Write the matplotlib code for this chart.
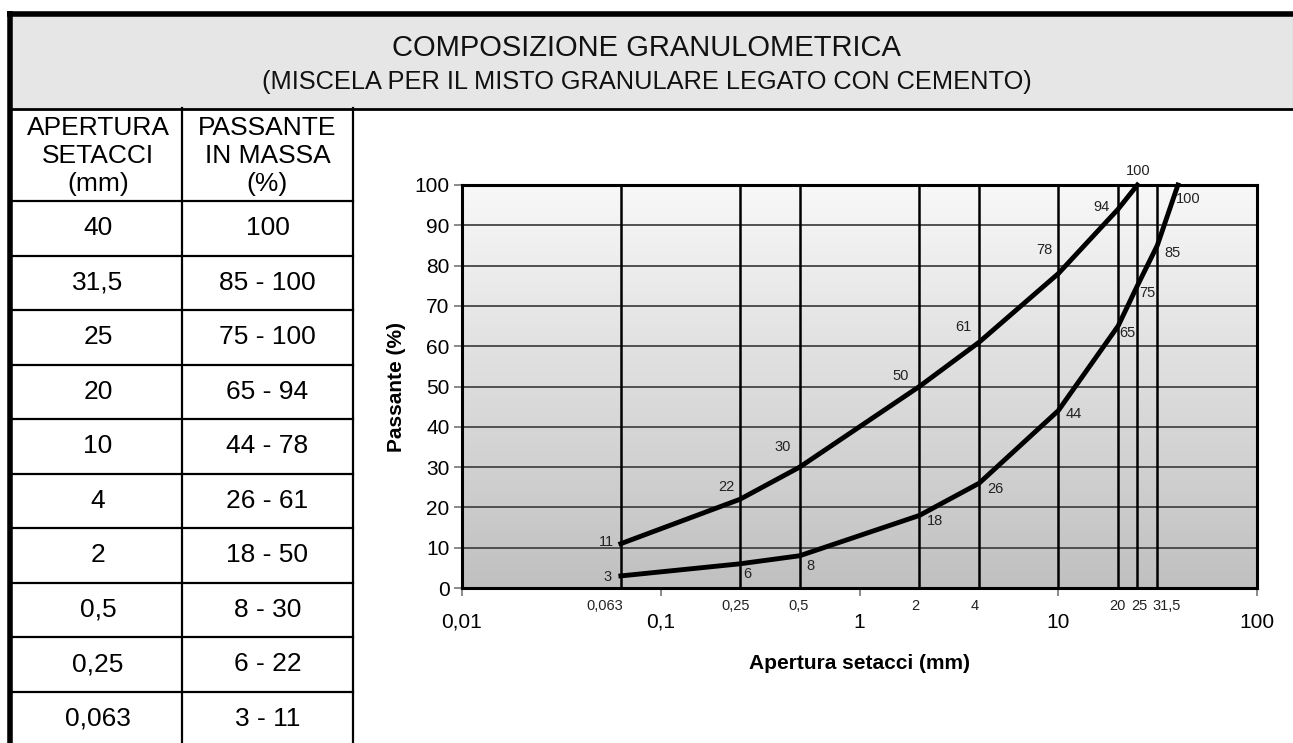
import numpy as np
import matplotlib
matplotlib.use("Agg")
import matplotlib.pyplot as plt
from matplotlib.ticker import FixedLocator, NullLocator, FuncFormatter

plt.rcParams['font.family'] = ['Liberation Sans', 'DejaVu Sans']

# ---------------- data ----------------
title = "COMPOSIZIONE GRANULOMETRICA"
subtitle = "(MISCELA PER IL MISTO GRANULARE LEGATO CON CEMENTO)"
table_header_1 = ["APERTURA", "SETACCI", "(mm)"]
table_header_2 = ["PASSANTE", "IN MASSA", "(%)"]
table_sieves = ["40", "31,5", "25", "20", "10", "4", "2", "0,5", "0,25", "0,063"]
table_ranges = ["100", "85 - 100", "75 - 100", "65 - 94", "44 - 78",
                "26 - 61", "18 - 50", "8 - 30", "6 - 22", "3 - 11"]

upper_x = [0.063, 0.25, 0.5, 2, 4, 10, 20, 25]
upper_y = [11, 22, 30, 50, 61, 78, 94, 100]
lower_x = [0.063, 0.25, 0.5, 2, 4, 10, 20, 25, 31.5, 40]
lower_y = [3, 6, 8, 18, 26, 44, 65, 75, 85, 100]

sieve_lines = [0.063, 0.25, 0.5, 2, 4, 10, 20, 25, 31.5]
sieve_labels = ["0,063", "0,25", "0,5", "2", "4", "20", "25", "31,5"]
sieve_label_x = [0.063, 0.25, 0.5, 2, 4, 20, 25, 31.5]
major_x = [0.01, 0.1, 1, 10, 100]
y_ticks = [0, 10, 20, 30, 40, 50, 60, 70, 80, 90, 100]

# label offsets (pixels) - styling
upper_off = [(-14, 2), (-13, 12), (-17, 20), (-19, 11), (-16, 15), (-14, 24), (-17, 2), (1, 14)]
lower_off = [(-13, -1), (7, -10), (11, -10), (16, -6), (16, -6), (15, -3), (9, -7), (10, -7), (15, -8), (10, -14)]
sieve_off = [-16, -4, -1, -4, -4, -1, 2, 9]

W, H = 1293, 743
fig = plt.figure(figsize=(W / 100, H / 100), dpi=100)
fig.patch.set_facecolor('white')

# overlay axes in pixel coordinates
ov = fig.add_axes([0, 0, 1, 1])
ov.set_xlim(0, W)
ov.set_ylim(H, 0)
ov.axis('off')

# title band
ov.add_patch(plt.Rectangle((10, 13), W - 10, 96, facecolor='#e6e6e6', edgecolor='none', zorder=1))
ov.plot([7, W], [13.5, 13.5], color='black', lw=4.0, solid_capstyle='butt', zorder=3)
ov.plot([9.8, 9.8], [11, H], color='black', lw=4.0, solid_capstyle='butt', zorder=3)
ov.plot([11, W], [108.5, 108.5], color='black', lw=2.0, solid_capstyle='butt', zorder=3)
ov.plot([W - 0.5, W - 0.5], [16, 108], color='#999999', lw=0.8, zorder=3)

ov.text(W / 2, 48, title, ha='center', va='center', fontsize=21, color='#111111', zorder=4)
ov.text(W / 2, 82, subtitle, ha='center', va='center', fontsize=18.3, color='#111111', zorder=4)

# table
col_x = [12, 182, 353]
header_bottom = 201
row_h = 54.5
for xx in col_x[1:]:
    ov.plot([xx, xx], [108, H], color='black', lw=1.6, zorder=3)
for i in range(len(table_sieves)):
    yb = header_bottom + i * row_h
    ov.plot([12, col_x[2]], [yb, yb], color='black', lw=1.6, zorder=3)
for j, (a, b) in enumerate(zip(table_header_1, table_header_2)):
    yy = 128 + j * 28
    ov.text((col_x[0] + col_x[1]) / 2 + 1, yy, a, ha='center', va='center', fontsize=19, zorder=4)
    ov.text((col_x[1] + col_x[2]) / 2, yy, b, ha='center', va='center', fontsize=19, zorder=4)
for i, (s, r) in enumerate(zip(table_sieves, table_ranges)):
    yy = header_bottom + i * row_h + row_h / 2
    ov.text((col_x[0] + col_x[1]) / 2 + 1, yy, s, ha='center', va='center', fontsize=19, zorder=4)
    ov.text((col_x[1] + col_x[2]) / 2, yy, r, ha='center', va='center', fontsize=19, zorder=4)

# ---------------- chart ----------------
L, R, T, B = 462, 1257, 185, 588
ax = fig.add_axes([L / W, 1 - B / H, (R - L) / W, (B - T) / H])
ax.set_xscale('log')
ax.set_xlim(0.01, 100)
ax.set_ylim(0, 100)

# gradient background
grad = np.linspace(0, 1, 256).reshape(-1, 1)
ax.imshow(grad, extent=[0, 1, 0, 1], transform=ax.transAxes, aspect='auto',
          cmap=matplotlib.colors.LinearSegmentedColormap.from_list('g', ['#c0c0c0', '#f8f8f8']),
          origin='lower', zorder=0)

for yv in y_ticks[1:-1]:
    ax.axhline(yv, color='#454545', lw=1.3, zorder=1)
for xv in sieve_lines:
    ax.axvline(xv, color='black', lw=1.8, zorder=2)

ax.plot(upper_x, upper_y, color='black', lw=3.5, zorder=4, solid_joinstyle='round', clip_on=False)
ax.plot(lower_x, lower_y, color='black', lw=3.5, zorder=4, solid_joinstyle='round', clip_on=False)

for (xv, yv), off in zip(zip(upper_x, upper_y), upper_off):
    ax.annotate(str(yv), (xv, yv), xytext=off, textcoords='offset pixels',
                ha='center', va='center', fontsize=10.5, color='#222222', zorder=5, annotation_clip=False)
for (xv, yv), off in zip(zip(lower_x, lower_y), lower_off):
    ax.annotate(str(yv), (xv, yv), xytext=off, textcoords='offset pixels',
                ha='center', va='center', fontsize=10.5, color='#222222', zorder=5, annotation_clip=False)

for xv, lab, off in zip(sieve_label_x, sieve_labels, sieve_off):
    ax.annotate(lab, (xv, 0), xytext=(off, -18), textcoords='offset pixels',
                ha='center', va='center', fontsize=10.5, color='#222222', annotation_clip=False)

for sp in ax.spines.values():
    sp.set_linewidth(2.2)
    sp.set_color('black')
    sp.set_zorder(6)

ax.xaxis.set_major_locator(FixedLocator(major_x))
ax.xaxis.set_minor_locator(NullLocator())
ax.xaxis.set_major_formatter(FuncFormatter(lambda v, p: ('%g' % v).replace('.', ',')))
ax.set_yticks(y_ticks)
ax.tick_params(axis='x', length=6, width=1.2, color='#777777', labelsize=15, pad=12)
ax.tick_params(axis='y', length=6, width=1.2, color='#777777', labelsize=15, pad=3)

ax.set_xlabel("Apertura setacci (mm)", fontsize=15, fontweight='bold', labelpad=16)
ax.set_ylabel("Passante (%)", fontsize=15, fontweight='bold', labelpad=6)

fig.savefig("out.png", dpi=100)
